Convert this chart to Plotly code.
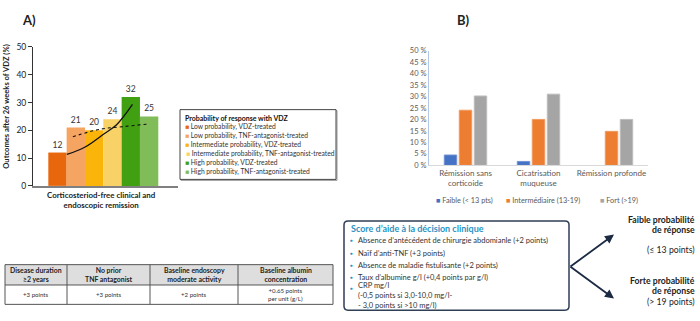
import plotly.graph_objects as go

W, H = 700, 321
FONT = "Lato"


def px(x):
    return x / W


def py(y):
    return 1 - y / H


# ---------------- Panel A data ----------------
a_positions = [0, 1, 2, 3, 4, 5]
a_values = [12, 21, 20, 24, 32, 25]
a_series = [
    "Low probability, VDZ-treated",
    "Low probability, TNF-antagonist-treated",
    "Intermediate probability, VDZ-treated",
    "Intermediate probability, TNF-antagonist-treated",
    "High probability, VDZ-treated",
    "High probability, TNF-antagonist-treated",
]
a_colors = ["#E8660C", "#F6A462", "#FBB40A", "#F8D266", "#40A012", "#80BC58"]
a_trend_vdz_x = [0.51, 1.51, 2.51, 3.24, 4.09]
a_trend_vdz_y = [11.3, 14.0, 18.6, 22.1, 29.3]
a_trend_tnf_x = [0.84, 2.33, 3.69, 5.02]
a_trend_tnf_y = [17.7, 20.4, 21.4, 22.3]
a_ytitle = "Outcomes after 26 weeks of VDZ (%)"
a_xtitle = "Corticosteriod-free clinical and<br>endoscopic remission"
a_legend_title = "Probability of response with VDZ"

# Table under panel A
t_headers = ["Disease duration<br>≥2 years", "No prior<br>TNF antagonist",
             "Baseline endoscopy<br>moderate activity", "Baseline albumin<br>concentration"]
t_points = ["+3 points", "+3 points", "+2 points", "+0.65 points<br>per unit (g/L)"]

# ---------------- Panel B data ----------------
b_categories = ["Rémission sans<br>corticoide", "Cicatrisation<br>muqueuse", "Rémission profonde"]
b_names = ["Faible (&lt; 13 pts)", "Intermédiaire (13-19)", "Fort (&gt;19)"]
b_faible = [4.5, 1.7, None]
b_inter = [24, 20, 14.8]
b_fort = [30.2, 31, 20]
b_colors = ["#4472C4", "#ED7D31", "#A5A5A5"]
b_lines = ["#7092d4", "#f29a5e", "#bdbdbd"]

score_title = "Score d’aide à la décision clinique"
score_items = [
    "Absence d’antécédent de chirurgie abdomianle (+2 points)",
    "Naïf d’anti-TNF (+3 points)",
    "Absence de maladie fistulisante (+2 points)",
    "Taux d’albumine g/l (+0,4 points par g/l)",
    "CRP mg/l<br>(-0,5 points si 3,0-10,0 mg/l-<br>- 3,0 points si &gt;10 mg/l)",
]
outcome_low = ["<b>Faible probabilité</b>", "<b>de réponse</b>", "(≤ 13 points)"]
outcome_high = ["<b>Forte probabilité</b>", "<b>de réponse</b>", "(&gt; 19 points)"]

fig = go.Figure()

# Panel A bars
fig.add_trace(go.Bar(
    x=a_positions, y=a_values, width=1,
    marker=dict(color=a_colors, line=dict(width=0)),
    text=[str(v) for v in a_values], textposition="outside",
    textfont=dict(size=8.5, color="#333333", family=FONT),
    cliponaxis=False, xaxis="x", yaxis="y", showlegend=False, hoverinfo="skip",
))
fig.add_trace(go.Scatter(
    x=a_trend_vdz_x, y=a_trend_vdz_y, mode="lines",
    line=dict(color="#111111", width=1.3, shape="spline"),
    xaxis="x", yaxis="y", showlegend=False, hoverinfo="skip",
))
fig.add_trace(go.Scatter(
    x=a_trend_tnf_x, y=a_trend_tnf_y, mode="lines",
    line=dict(color="#111111", width=1.1, dash="dot", shape="spline"),
    xaxis="x", yaxis="y", showlegend=False, hoverinfo="skip",
))

# Panel B bars
for name, vals, col, lc in zip(b_names, [b_faible, b_inter, b_fort], b_colors, b_lines):
    fig.add_trace(go.Bar(
        x=b_categories, y=vals, name=name,
        marker=dict(color=col, line=dict(color=lc, width=1)),
        xaxis="x2", yaxis="y2", showlegend=False, hoverinfo="skip",
    ))

ann = []
shapes = []

# Panel labels
ann.append(dict(text="<b>A)</b>", x=px(20), y=py(15), xanchor="left", yanchor="middle",
                font=dict(size=13, color="#222222", family=FONT)))
ann.append(dict(text="<b>B)</b>", x=px(455), y=py(15), xanchor="left", yanchor="middle",
                font=dict(size=13, color="#222222", family=FONT)))

# Panel A titles
ann.append(dict(text=f"<b>{a_ytitle}</b>", x=px(6), y=py(105), textangle=-90,
                xanchor="center", yanchor="middle", font=dict(size=7.6, color="#222222", family=FONT)))
ann.append(dict(text=f"<b>{a_xtitle}</b>", x=px(101), y=py(201), xanchor="center", yanchor="middle",
                font=dict(size=7.9, color="#222222", family=FONT)))

# Panel A legend box
shapes.append(dict(type="rect", xref="paper", yref="paper", x0=px(181), x1=px(337), y0=py(181), y1=py(109),
                   line=dict(color="#9a9a9a", width=1), fillcolor="rgba(0,0,0,0)"))
shapes.append(dict(type="rect", xref="paper", yref="paper", x0=px(180), x1=px(336), y0=py(180), y1=py(108),
                   line=dict(color="#444444", width=1), fillcolor="white"))
ann.append(dict(text=f"<b>{a_legend_title}</b>", x=px(183), y=py(116.7), xanchor="left", yanchor="middle",
                font=dict(size=7.0, color="#111111", family=FONT)))
for i, (name, col) in enumerate(zip(a_series, a_colors)):
    ann.append(dict(text=f'<span style="color:{col}">■</span> {name}', x=px(183.5), y=py(125.7 + 9.33 * i),
                    xanchor="left", yanchor="middle", font=dict(size=6.7, color="#333333", family=FONT)))

# Table under panel A
col_edges = [5, 67, 150, 238, 333]
row_edges = [268, 289, 309]
shapes.append(dict(type="rect", xref="paper", yref="paper", x0=px(col_edges[0]), x1=px(col_edges[-1]),
                   y0=py(row_edges[1]), y1=py(row_edges[0]), line=dict(width=0), fillcolor="#dedede", layer="below"))
for xe in col_edges:
    shapes.append(dict(type="line", xref="paper", yref="paper", x0=px(xe), x1=px(xe),
                       y0=py(row_edges[0]), y1=py(row_edges[-1]), line=dict(color="#555555", width=1)))
for ye in row_edges:
    shapes.append(dict(type="line", xref="paper", yref="paper", x0=px(col_edges[0]), x1=px(col_edges[-1]),
                       y0=py(ye), y1=py(ye), line=dict(color="#555555", width=1)))
for i, (h, p) in enumerate(zip(t_headers, t_points)):
    cx = (col_edges[i] + col_edges[i + 1]) / 2
    ann.append(dict(text=f"<b>{h}</b>", x=px(cx), y=py((row_edges[0] + row_edges[1]) / 2), xanchor="center",
                    yanchor="middle", font=dict(size=6.9, color="#222222", family=FONT)))
    ann.append(dict(text=p, x=px(cx), y=py((row_edges[1] + row_edges[2]) / 2), xanchor="center",
                    yanchor="middle", font=dict(size=6.1, color="#333333", family=FONT)))

# Panel B legend
leg_x = [433.5, 504, 598]
for name, col, lx in zip(b_names, b_colors, leg_x):
    ann.append(dict(text=f'<span style="color:{col}">■</span> {name}', x=px(lx), y=py(202.3),
                    xanchor="left", yanchor="middle", font=dict(size=7.3, color="#595959", family=FONT)))


# Score box (rounded)
def rrect(x0, y0, x1, y1, r):
    pts = [
        f"M {px(x0 + r)},{py(y0)}", f"L {px(x1 - r)},{py(y0)}", f"Q {px(x1)},{py(y0)} {px(x1)},{py(y0 + r)}",
        f"L {px(x1)},{py(y1 - r)}", f"Q {px(x1)},{py(y1)} {px(x1 - r)},{py(y1)}",
        f"L {px(x0 + r)},{py(y1)}", f"Q {px(x0)},{py(y1)} {px(x0)},{py(y1 - r)}",
        f"L {px(x0)},{py(y0 + r)}", f"Q {px(x0)},{py(y0)} {px(x0 + r)},{py(y0)}", "Z",
    ]
    return " ".join(pts)


shapes.append(dict(type="path", xref="paper", yref="paper", path=rrect(344, 223, 569, 315, 4),
                   line=dict(color="#2f3f55", width=1.5), fillcolor="white"))
ann.append(dict(text=f"<b>{score_title}</b>", x=px(349), y=py(231), xanchor="left", yanchor="middle",
                font=dict(size=9.0, color="#2a93c4", family=FONT)))
item_y = [243.5, 256.5, 269, 281, 300]
for txt, yy in zip(score_items, item_y):
    ann.append(dict(text=txt, x=px(356), y=py(yy), xanchor="left", yanchor="middle", align="left",
                    font=dict(size=7.5, color="#333333", family=FONT)))
bullet_y = [243.5, 256.5, 269, 281, 293]
for yy in bullet_y:
    ann.append(dict(text="●", x=px(351), y=py(yy), xanchor="center", yanchor="middle",
                    font=dict(size=4.5, color="#2a93c4", family=FONT)))

# Arrows
for tip_y in [237, 303]:
    ann.append(dict(text="", x=px(614), y=py(tip_y), ax=569 - 614, ay=270 - tip_y, showarrow=True,
                    arrowhead=2, arrowsize=1, arrowwidth=1.8, arrowcolor="#1c2a44", standoff=0,
                    xref="paper", yref="paper"))

# Outcome texts
for txt, yy in zip(outcome_low, [221, 232, 252]):
    ann.append(dict(text=txt, x=px(697), y=py(yy), xanchor="right", yanchor="middle",
                    font=dict(size=8.7, color="#222222", family=FONT)))
for txt, yy in zip(outcome_high, [284, 295, 306]):
    ann.append(dict(text=txt, x=px(697), y=py(yy), xanchor="right", yanchor="middle",
                    font=dict(size=8.7, color="#222222", family=FONT)))

for a in ann:
    a.setdefault("showarrow", False)
    a.setdefault("xref", "paper")
    a.setdefault("yref", "paper")

fig.update_layout(
    width=W, height=H, margin=dict(l=0, r=0, t=0, b=0),
    paper_bgcolor="white", plot_bgcolor="white",
    barmode="group", bargap=0.384, bargroupgap=0.17,
    font=dict(family=FONT, color="#333333"),
    showlegend=False, hovermode=False,
    xaxis=dict(domain=[px(33), px(178)], range=[-1.335, 6.575], showline=True, linecolor="#808080",
               linewidth=1.5, showticklabels=False, showgrid=False, zeroline=False, ticks="", anchor="y",
               fixedrange=True),
    yaxis=dict(domain=[py(186.7), py(43.3)], range=[0, 50], dtick=10, ticks="outside", ticklen=4,
               tickcolor="#333333", showline=True, linecolor="#333333", linewidth=1, showgrid=False,
               zeroline=False, tickfont=dict(size=8.5, color="#222222", family=FONT), anchor="x",
               fixedrange=True),
    xaxis2=dict(domain=[px(429), px(648)], type="category", showline=True, linecolor="#d9d9d9", linewidth=1,
                showgrid=False, zeroline=False, ticks="", tickfont=dict(size=8, color="#595959", family=FONT),
                anchor="y2", fixedrange=True),
    yaxis2=dict(domain=[py(165.5), py(47)], range=[0, 50], dtick=5, ticksuffix=" %", showline=True,
                linecolor="#b4c7e7", linewidth=1, showgrid=False, zeroline=False, ticks="",
                tickfont=dict(size=7.5, color="#595959", family=FONT), anchor="x2", fixedrange=True),
    annotations=ann, shapes=shapes,
)

fig.write_html("out.html", config={"displayModeBar": False})
